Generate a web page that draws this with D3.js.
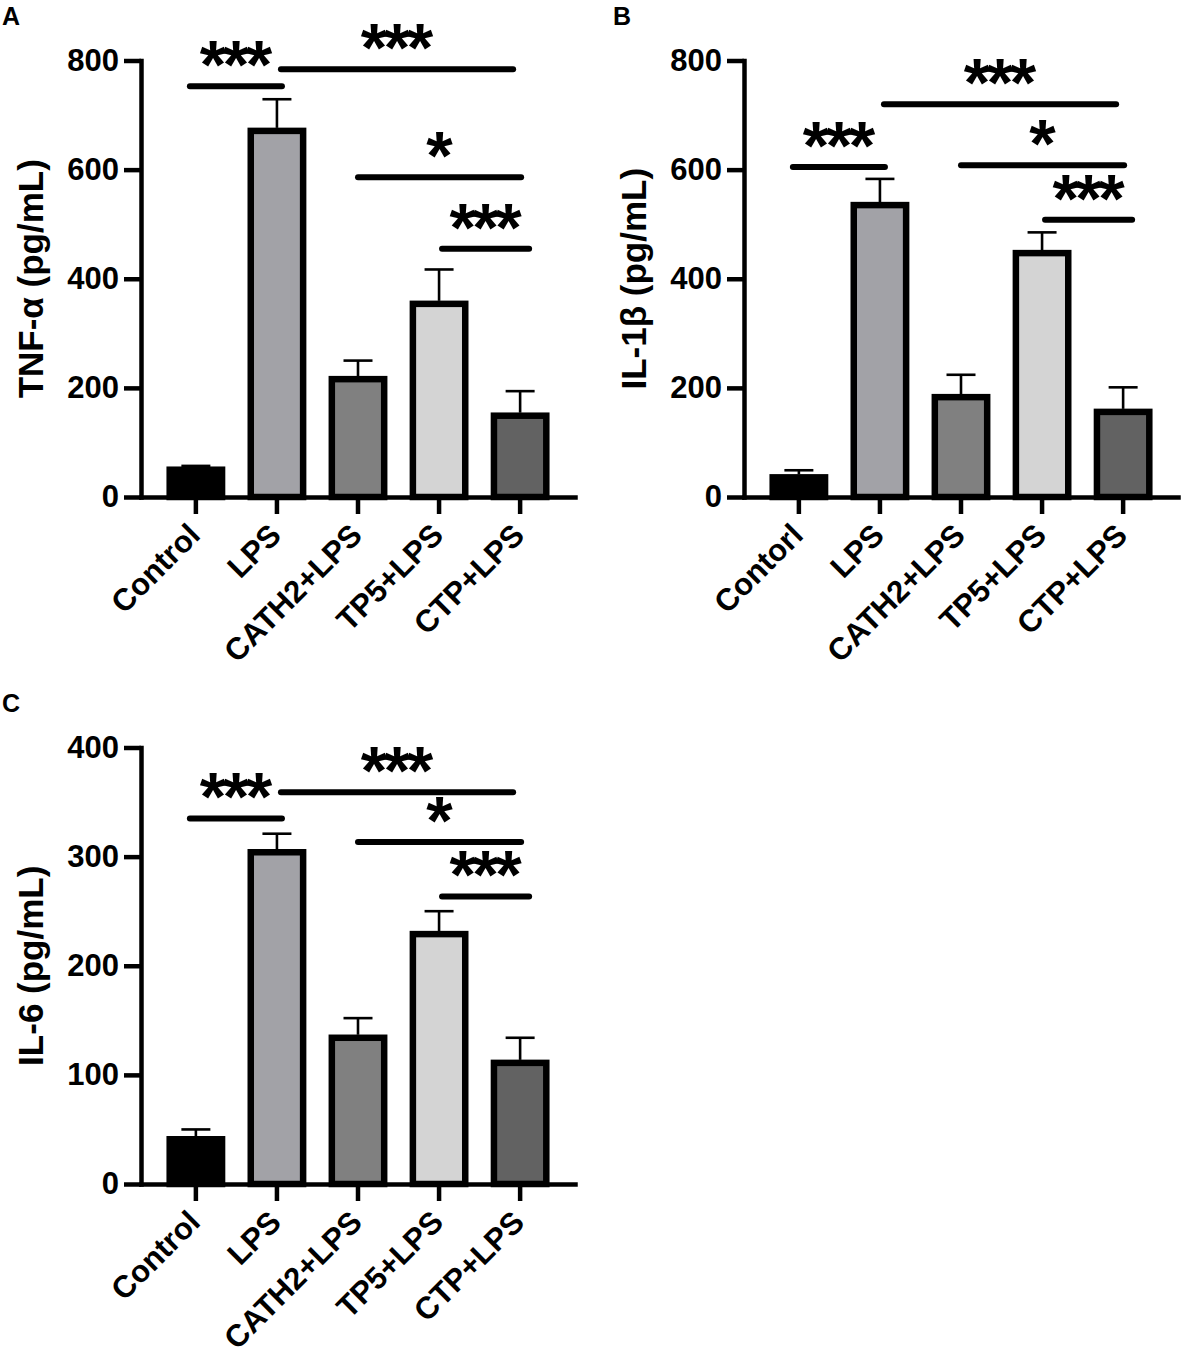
<!DOCTYPE html>
<html>
<head>
<meta charset="utf-8">
<script src="https://cdn.jsdelivr.net/npm/d3@7"></script>
<style>
  body { margin: 0; background: #fff; }
  text { font-family: "Liberation Sans", Arial, sans-serif; font-weight: bold; fill: #000; }
</style>
</head>
<body>
<svg id="fig" width="1182" height="1359"></svg>
<script>
// groups (panel B keeps the original spelling)
let groupsA = ["Control", "LPS", "CATH2+LPS", "TP5+LPS", "CTP+LPS"];
let groupsB = ["Contorl", "LPS", "CATH2+LPS", "TP5+LPS", "CTP+LPS"];

// means and error (upper bar), pg/mL
let tnfMean = [50, 671, 216, 354, 149];
let tnfErr  = [7, 58, 34, 63, 45];
let il1Mean = [36, 535, 183, 447, 156];
let il1Err  = [13, 48, 41, 38, 45];
let il6Mean = [41, 304, 134, 229, 111];
let il6Err  = [9, 17, 18, 21, 23];

let ticksA = [0, 200, 400, 600, 800];
let ticksC = [0, 100, 200, 300, 400];

// significance brackets: from group, to group, height (data units), mark
let sigA = [[0, 1, 753, "***"], [1, 4, 784, "***"], [2, 4, 586, "*"], [3, 4, 455, "***"]];
let sigB = [[0, 1, 605, "***"], [1, 4, 720, "***"], [2, 4, 608, "*"], [3, 4, 508, "***"]];
let sigC = [[0, 1, 335, "***"], [1, 4, 359, "***"], [2, 4, 313.5, "*"], [3, 4, 263.5, "***"]];

let fills = ["#000000", "#a2a2a7", "#808080", "#d4d4d4", "#626262"];
// how far each bracket end sits from its bar centre (px)
let sigNudge = [[-6, 5], [4, -7], [0, 1], [3, 9]];

let svg = d3.select("#fig");

function drawPanel(ox, oy, letter, cats, mean, err, ticks, sig, title) {
    let g = svg.append("g").attr("transform", `translate(${ox},${oy})`);

    let x = d3.scaleBand()
        .domain(cats)
        .range([141, 575])
        .paddingInner(0.354)
        .paddingOuter(0.354);

    let y = d3.scaleLinear()
        .domain([0, ticks[ticks.length - 1]])
        .range([497, 60.5]);

    g.append("text")
        .attr("x", 2 + (letter == "B" ? 8 : 0))
        .attr("y", 25)
        .style("font-size", "25px")
        .text(letter);

    // bars
    g.selectAll("rect.bar")
        .data(cats)
        .enter()
        .append("rect")
            .attr("class", "bar")
            .attr("x", d => x(d))
            .attr("width", x.bandwidth())
            .attr("y", (d, i) => y(mean[i]))
            .attr("height", (d, i) => y(0) - y(mean[i]))
            .style("fill", (d, i) => fills[i])
            .style("stroke", "#000")
            .style("stroke-width", 6.5);

    // error bars (upper half only)
    let eb = g.selectAll("g.err")
        .data(cats)
        .enter()
        .append("g")
        .attr("class", "err")
        .attr("transform", d => `translate(${x(d) + x.bandwidth() / 2},0)`);
    eb.append("line")
        .attr("y1", (d, i) => y(mean[i]) - 3)
        .attr("y2", (d, i) => y(mean[i] + err[i]))
        .style("stroke", "#000")
        .style("stroke-width", 2.6);
    eb.append("line")
        .attr("x1", -14.5)
        .attr("x2", 14.5)
        .attr("y1", (d, i) => y(mean[i] + err[i]))
        .attr("y2", (d, i) => y(mean[i] + err[i]))
        .style("stroke", "#000")
        .style("stroke-width", 2.6);

    // axes
    let yAxis = g.append("g")
        .attr("transform", "translate(141,0)")
        .call(d3.axisLeft(y).tickValues(ticks).tickSize(17).tickPadding(5).tickSizeOuter(0));
    yAxis.selectAll("text").style("font-size", "31px").style("font-family", null);

    let xAxis = g.append("g")
        .attr("transform", `translate(0,${y(0)})`)
        .call(d3.axisBottom(x).tickSize(17).tickSizeOuter(0));
    xAxis.selectAll("text")
        .style("font-size", "31px")
        .style("font-family", null)
        .attr("text-anchor", "end")
        .attr("y", null)
        .attr("dy", null)
        .attr("transform", "translate(6,40) rotate(-45)");

    [yAxis, xAxis].forEach(a => {
        a.select(".domain").style("stroke-width", 4.5).style("stroke-linecap", "square");
        a.selectAll(".tick line").style("stroke-width", 4.5);
    });

    g.append("text")
        .attr("transform", `translate(43,${(y(0) + y(ticks[ticks.length - 1])) / 2}) rotate(-90)`)
        .attr("text-anchor", "middle")
        .style("font-size", "35px")
        .text(title);

    // significance lines and stars
    let cx = i => x(cats[i]) + x.bandwidth() / 2;
    sig.forEach((s, k) => {
        let x0 = cx(s[0]) + sigNudge[k][0];
        let x1 = cx(s[1]) + sigNudge[k][1];
        let ly = y(s[2]);
        g.append("line")
            .attr("x1", x0).attr("x2", x1)
            .attr("y1", ly).attr("y2", ly)
            .style("stroke", "#000")
            .style("stroke-width", 6)
            .style("stroke-linecap", "round");
        g.append("text")
            .attr("x", (x0 + x1) / 2 - 1.75)
            .attr("y", ly + 2)
            .attr("text-anchor", "middle")
            .style("font-size", "68px")
            .style("letter-spacing", "-3.5px")
            .text(s[3]);
    });
}

drawPanel(0, 0, "A", groupsA, tnfMean, tnfErr, ticksA, sigA, "TNF-α (pg/mL)");
drawPanel(603, 0, "B", groupsB, il1Mean, il1Err, ticksA, sigB, "IL-1β (pg/mL)");
drawPanel(0, 687, "C", groupsA, il6Mean, il6Err, ticksC, sigC, "IL-6 (pg/mL)");
</script>
</body>
</html>
